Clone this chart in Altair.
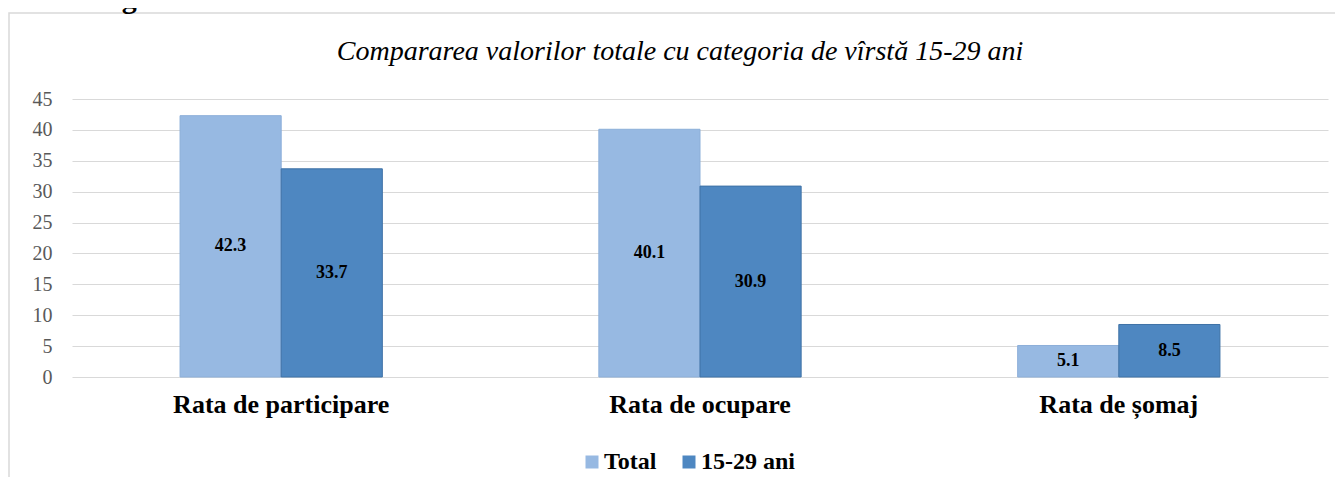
import altair as alt
import pandas as pd

categories = ["Rata de participare", "Rata de ocupare", "Rata de șomaj"]
series = ["Total", "15-29 ani"]
total_values = [42.3, 40.1, 5.1]
young_values = [33.7, 30.9, 8.5]
fill_colors = ["#97B9E2", "#4E87C1"]
stroke_colors = ["#8CAFD9", "#3F72A6"]
y_ticks = [0, 5, 10, 15, 20, 25, 30, 35, 40, 45]
title_text = "Compararea valorilor totale cu categoria de vîrstă 15-29 ani"
figure_text = "Figura 1."

FONT = "Liberation Serif, Times New Roman, serif"

rows = []
for c, t, v in zip(categories, total_values, young_values):
    rows.append({"cat": c, "series": "Total", "value": t})
    rows.append({"cat": c, "series": "15-29 ani", "value": v})
df = pd.DataFrame(rows)
df["mid"] = df["value"] / 2
df["label"] = df["value"].map(lambda v: f"{v:.1f}")

x_enc = alt.X(
    "cat:N",
    sort=categories,
    scale=alt.Scale(paddingInner=0.517, paddingOuter=0.258),
    axis=alt.Axis(
        title=None, labelAngle=0, labelFont=FONT, labelFontSize=26,
        labelFontWeight="bold", labelColor="#000000", ticks=False,
        domain=False, labelPadding=14, grid=False, labelLimit=0,
    ),
)
xoff = alt.XOffset("series:N", sort=series, scale=alt.Scale(domain=series))

y_scale = alt.Scale(domain=[0, 45], nice=False, zero=True)
y_axis = alt.Axis(
    title=None, values=y_ticks, grid=True, gridColor="#D9D9D9",
    gridWidth=1, domain=False, ticks=False, labelPadding=20,
    labelFont=FONT, labelFontSize=20, labelColor="#595959",
    labelOverlap=False,
)

base = alt.Chart(df)

bars = base.mark_bar(strokeWidth=1).encode(
    x=x_enc,
    xOffset=xoff,
    y=alt.Y("value:Q", scale=y_scale, axis=y_axis),
    color=alt.Color(
        "series:N",
        sort=series,
        scale=alt.Scale(domain=series, range=fill_colors),
        legend=alt.Legend(
            title=None, orient="none", legendX=508, legendY=351,
            direction="horizontal", symbolType="square", symbolSize=169,
            symbolStrokeWidth=0, labelFont=FONT, labelFontSize=24,
            labelFontWeight="bold", labelColor="#000000", columnPadding=20,
            labelOffset=0, padding=0,
        ),
    ),
    stroke=alt.Stroke(
        "series:N", sort=series,
        scale=alt.Scale(domain=series, range=stroke_colors), legend=None,
    ),
)

labels = base.mark_text(
    font=FONT, fontSize=18, fontWeight="bold", color="#000000", baseline="middle"
).encode(
    x=x_enc,
    xOffset=xoff,
    y=alt.Y("mid:Q", scale=y_scale, axis=y_axis),
    text="label:N",
)

frame = alt.Chart(pd.DataFrame({"a": [0]})).mark_rect(
    fill="transparent", stroke="#D9D9D9", strokeWidth=1.5
).encode(
    x=alt.value(-63), x2=alt.value(1300), y=alt.value(-86), y2=alt.value(420)
)

fig_label = alt.Chart(pd.DataFrame({"t": [figure_text]})).mark_text(
    font=FONT, fontSize=30, fontWeight="bold", color="#000000",
    align="left", baseline="alphabetic"
).encode(
    x=alt.value(23), y=alt.value(-91), text="t:N"
)

title_mark = alt.Chart(pd.DataFrame({"t": [title_text]})).mark_text(
    font=FONT, fontSize=28, fontStyle="italic", fontWeight="normal",
    color="#000000", align="center", baseline="alphabetic"
).encode(
    x=alt.value(608), y=alt.value(-39), text="t:N"
)

chart = alt.layer(frame, bars, labels, fig_label, title_mark).properties(
    width=1256,
    height=278,
    padding={"left": 64, "top": 91, "right": 7, "bottom": 100},
    autosize=alt.AutoSizeParams(type="none"),
).configure_view(strokeWidth=0)

chart.save("out.html", embed_options={"renderer": "svg", "actions": False})
